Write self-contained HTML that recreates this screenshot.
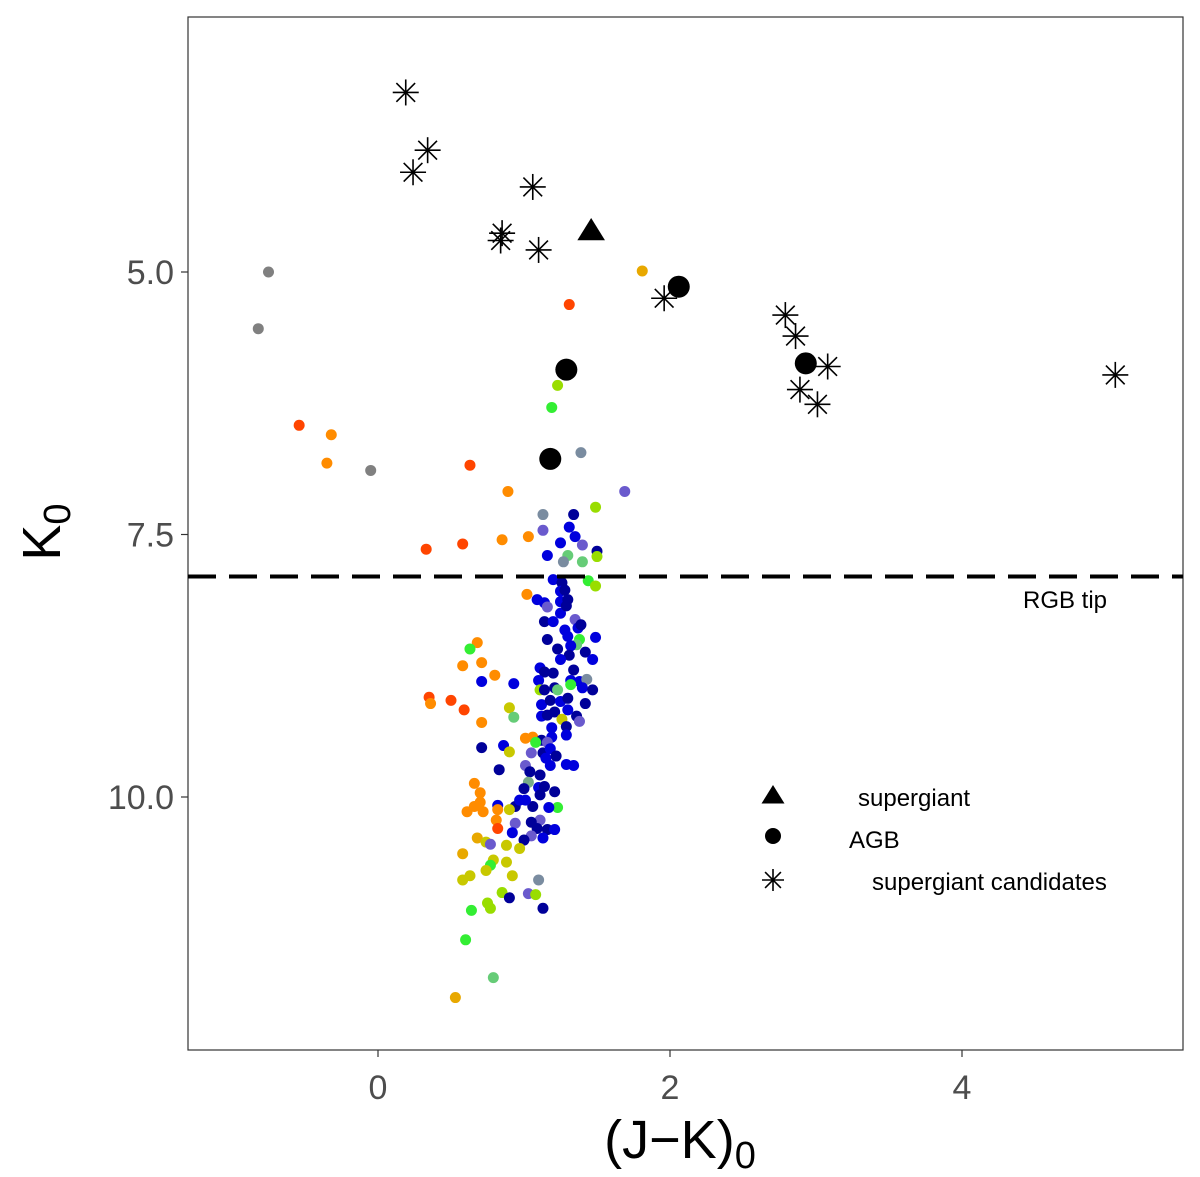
<!DOCTYPE html>
<html><head><meta charset="utf-8"><style>
body{margin:0;background:#fff}
svg{display:block;font-family:"Liberation Sans",sans-serif}
</style></head><body>
<svg id="chart" width="1200" height="1177">
<rect x="0" y="0" width="1200" height="1177" fill="#fff"/>
<g id="plot"></g>
</svg>
<script>
const jk=[-0.75,-0.82,-0.54,-0.32,-0.35,-0.05,0.63,1.31,1.81,1.23,1.19,1.39,1.69,0.89,0.33,0.58,0.85,1.49,1.34,1.31,1.13,1.13,1.03,1.25,1.35,1.40,1.50,1.16,1.30,1.27,1.40,1.50,1.44,1.49,1.20,1.26,1.25,1.02,1.09,1.14,1.25,1.30,1.16,1.25,1.29,1.35,1.14,1.28,1.30,1.37,1.39,1.16,1.38,1.49,1.36,1.32,1.42,1.31,0.68,0.63,0.58,0.71,0.80,0.71,0.93,1.11,1.14,1.20,1.10,1.11,1.14,1.32,1.38,1.43,1.40,1.47,1.21,1.23,1.32,0.50,0.59,0.71,0.35,0.36,0.90,0.93,1.12,1.18,1.25,1.30,1.42,1.12,1.16,1.21,1.26,1.29,1.36,1.30,1.19,1.19,1.38,1.29,0.71,0.86,0.90,1.01,1.06,1.12,1.08,1.16,1.05,1.13,1.18,1.15,1.22,1.29,1.34,1.18,1.01,1.04,1.11,0.83,1.03,1.00,1.10,1.14,1.21,1.11,1.06,1.23,1.17,0.94,0.97,1.01,1.11,1.16,1.21,1.05,1.09,1.13,0.94,0.92,1.05,1.00,0.66,0.70,0.66,0.72,0.61,0.82,0.70,0.82,0.90,0.81,0.82,0.68,0.74,0.58,0.77,0.88,0.97,0.79,0.77,0.88,0.74,0.58,0.63,0.92,0.85,0.90,0.75,0.77,0.64,1.03,1.10,1.08,1.13,0.60,0.79,0.53,1.28,1.20,1.25,1.47,1.34,1.23];
const kmag=[5.00,5.54,6.46,6.55,6.82,6.89,6.84,5.31,4.99,6.08,6.29,6.72,7.09,7.09,7.64,7.59,7.55,7.24,7.31,7.43,7.31,7.46,7.52,7.58,7.52,7.60,7.66,7.70,7.70,7.76,7.76,7.71,7.94,7.99,7.93,7.96,8.04,8.07,8.12,8.15,8.14,8.12,8.19,8.25,8.18,8.31,8.33,8.41,8.47,8.39,8.36,8.50,8.50,8.48,8.55,8.56,8.62,8.65,8.53,8.59,8.75,8.72,8.84,8.90,8.92,8.77,8.81,8.82,8.89,8.98,8.98,8.89,8.90,8.88,8.96,8.98,8.96,8.98,8.93,9.08,9.17,9.29,9.05,9.11,9.15,9.24,9.12,9.08,9.09,9.06,9.11,9.23,9.22,9.19,9.26,9.33,9.23,9.17,9.34,9.43,9.28,9.41,9.53,9.51,9.57,9.44,9.43,9.46,9.48,9.48,9.58,9.58,9.54,9.63,9.61,9.69,9.70,9.70,9.70,9.76,9.79,9.74,9.86,9.92,9.91,9.90,9.95,9.98,10.09,10.10,10.10,10.09,10.03,10.03,10.22,10.31,10.31,10.24,10.30,10.39,10.25,10.34,10.37,10.41,9.87,9.96,10.09,10.14,10.14,10.08,10.05,10.12,10.12,10.22,10.30,10.39,10.43,10.54,10.45,10.46,10.49,10.60,10.65,10.62,10.70,10.79,10.75,10.75,10.91,10.96,11.01,11.06,11.08,10.92,10.79,10.93,11.06,11.36,11.72,11.91,8.03,8.33,8.69,8.69,8.79,8.59];
const cls="G G R O O G R R A Y E T S O R R O Y N B T S O B B S N B M T M Y E Y B N B O B B B N S B N S N B B B N N E B M B N N O E O O O B B B N N B Y N B B T B N N M E R R O R O Q M B N B N N B N N Q N N B B B S B N B Q O O N E S S N B B N B B B S N N N X N B N N N N E B N B B S N B N N B S B S N O O O O O B O O Q O R A Q A S Q Q Q E Q Q Q Q Q Y N Y Y E S T Y N E M A N B B B N N".split(" ");
const palette={G:"#808080",R:"#ff4500",O:"#ff8c00",A:"#e8a800",Y:"#99dd00",E:"#33ee33",T:"#7a8ca0",S:"#6a5acd",N:"#000099",B:"#0000dd",M:"#66cc77",Q:"#c8c800",X:"#77aa88"};
const starJK=[0.19,0.34,0.24,1.06,0.85,0.84,1.10,1.96,2.79,2.86,3.08,2.89,3.01,5.05];
const starK=[3.29,3.84,4.05,4.19,4.63,4.70,4.79,5.25,5.41,5.61,5.90,6.12,6.26,5.98];
const agbJK=[2.06,1.29,1.18,2.93];
const agbK=[5.14,5.93,6.78,5.87];
const sgJK=[1.46], sgK=[4.60];
const xTicks=[0,2,4], yTicks=[5.0,7.5,10.0];
const rgbTip=7.9;

const L=188,T=17,R=1183,B=1050;
const sx=v=>378+v*146, sy=v=>272+(v-5)*105;
const NS="http://www.w3.org/2000/svg";
const g=document.getElementById("plot");
function mk(tag,attrs,parent){const e=document.createElementNS(NS,tag);for(const k in attrs)e.setAttribute(k,attrs[k]);(parent||g).appendChild(e);return e;}

let f=mk("rect",{x:L,y:T,width:R-L,height:B-T,fill:"none",stroke:"#333","stroke-width":1.2});



xTicks.forEach(v=>{
 let t=mk("line",{x1:sx(v),x2:sx(v),y1:B,y2:B+7,stroke:"#333","stroke-width":1.2});
 
 
 let l=mk("text",{x:sx(v),y:1099,"text-anchor":"middle","font-size":34,fill:"#4d4d4d"});l.textContent=v;
 
 
});
yTicks.forEach(v=>{
 let t=mk("line",{x1:L-7,x2:L,y1:sy(v),y2:sy(v),stroke:"#333","stroke-width":1.2});
 
 
 let l=mk("text",{x:L-14,y:sy(v)+12,"text-anchor":"end","font-size":34,fill:"#4d4d4d"});l.textContent=v.toFixed(1);
 
 
});

let xt=mk("text",{x:680,y:1158,"text-anchor":"middle","font-size":54,fill:"#000"});
xt.innerHTML='(J\u2212K)<tspan font-size="38" dy="10">0</tspan>';


let yt=mk("text",{x:0,y:0,"text-anchor":"middle","font-size":54,fill:"#000",transform:"translate(60,532) rotate(-90)"});
yt.innerHTML='K<tspan font-size="38" dy="10">0</tspan>';



jk.forEach((v,i)=>{
 let c=mk("circle",{cx:sx(v),cy:sy(kmag[i]),r:5.5,fill:palette[cls[i]]||"#0000dd"});
 
 
});

let dl=mk("line",{x1:L,x2:R,y1:sy(rgbTip),y2:sy(rgbTip),stroke:"#000","stroke-width":4,"stroke-dasharray":"28,13"});


let rl=mk("text",{x:1065,y:608,"text-anchor":"middle","font-size":24,fill:"#000"});rl.textContent="RGB tip";



function asterisk(cx,cy,s,name){
 const p=mk("g",{stroke:"#000","stroke-width":1.6});
 
 
 mk("line",{x1:cx-s,x2:cx+s,y1:cy,y2:cy},p);
 mk("line",{x1:cx,x2:cx,y1:cy-s,y2:cy+s},p);
 mk("line",{x1:cx-s*.72,x2:cx+s*.72,y1:cy-s*.72,y2:cy+s*.72},p);
 mk("line",{x1:cx-s*.72,x2:cx+s*.72,y1:cy+s*.72,y2:cy-s*.72},p);
}
starJK.forEach((v,i)=>asterisk(sx(v),sy(starK[i]),13,'supergiant-candidate'));
agbJK.forEach((v,i)=>{
 let c=mk("circle",{cx:sx(v),cy:sy(agbK[i]),r:11,fill:"#000"});
 
 
});
function tri(cx,cy,s){return `${cx},${cy-s} ${cx+s*1.15},${cy+s*.85} ${cx-s*1.15},${cy+s*.85}`;}
sgJK.forEach((v,i)=>{
 let p=mk("polygon",{points:tri(sx(v),sy(sgK[i]),12),fill:"#000"});
 
 
});

let lt=mk("polygon",{points:tri(773,795,10),fill:"#000"});


let lc=mk("circle",{cx:773,cy:836,r:8,fill:"#000"});


asterisk(773,880,11,'legend-candidate-key');
[["supergiant",858,806],["AGB",849,848],["supergiant candidates",872,890]].forEach(a=>{
 let t=mk("text",{x:a[1],y:a[2],"font-size":24,fill:"#000"});t.textContent=a[0];
 
 
});
</script>
</body></html>
